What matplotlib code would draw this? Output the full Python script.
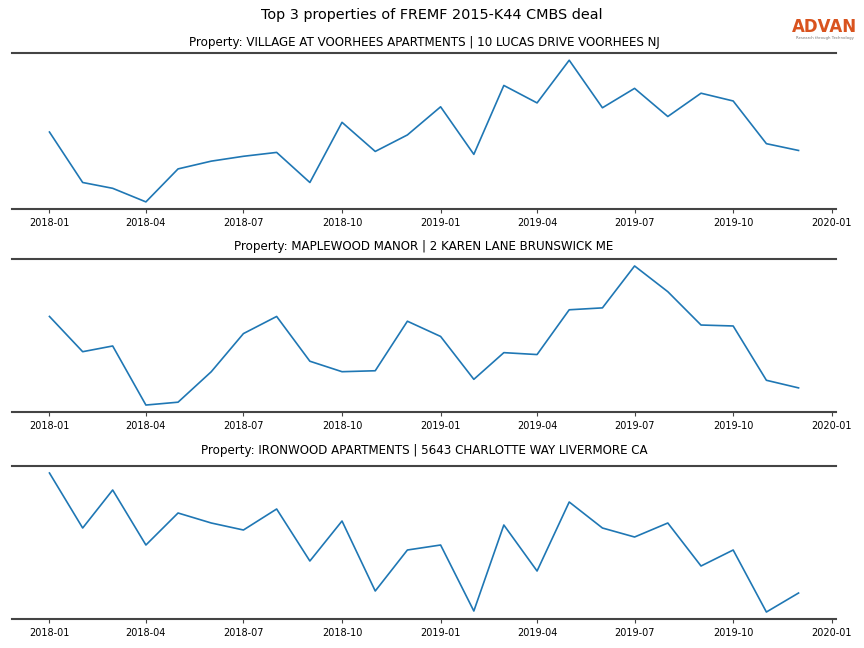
import matplotlib
matplotlib.use("Agg")
import matplotlib.pyplot as plt
import matplotlib.dates as mdates
import pandas as pd

months = pd.date_range("2018-01-01", "2019-12-01", freq="MS")

titles = [
    "Property: VILLAGE AT VOORHEES APARTMENTS | 10 LUCAS DRIVE VOORHEES NJ",
    "Property: MAPLEWOOD MANOR | 2 KAREN LANE BRUNSWICK ME",
    "Property: IRONWOOD APARTMENTS | 5643 CHARLOTTE WAY LIVERMORE CA",
]

village = [77, 25, 19, 5, 39, 47, 52, 56, 25, 87, 57, 74, 103, 54, 125, 107,
           151, 102, 122, 93, 117, 109, 65, 58]
maplewood = [96, 59, 65, 3, 6, 38, 78, 96, 49, 38, 39, 91, 75, 30, 58, 56,
             103, 105, 149, 122, 87, 86, 29, 21]
ironwood = [145, 90, 128, 73, 105, 95, 88, 109, 57, 97, 27, 68, 73, 7, 93, 47,
            116, 90, 81, 95, 52, 68, 6, 25]

series = [village, maplewood, ironwood]

fig = plt.figure(figsize=(8.64, 6.48), dpi=100)
fig.suptitle("Top 3 properties of FREMF 2015-K44 CMBS deal", fontsize=10.4, y=0.988)

positions = [(0.918, 0.6775), (0.6003, 0.3642), (0.2808, 0.0448)]
pads = [5, 6.5, 8.6]
left, right = 12 / 864, 836 / 864

for (top, bottom), title, vals, pad in zip(positions, titles, series, pads):
    ax = fig.add_axes([left, bottom, right - left, top - bottom])
    ax.plot(months, vals, color="#1f77b4", linewidth=1.2)
    ax.set_title(title, fontsize=8.6, pad=pad)
    for s in ["left", "right"]:
        ax.spines[s].set_visible(False)
    for s in ["top", "bottom"]:
        ax.spines[s].set_color("#444444")
        ax.spines[s].set_linewidth(1.5)
    ax.set_yticks([])
    ax.xaxis.set_major_locator(mdates.MonthLocator(bymonth=[1, 4, 7, 10]))
    ax.xaxis.set_major_formatter(mdates.DateFormatter("%Y-%m"))
    ax.tick_params(axis="x", labelsize=7, length=3, width=0.8, color="#444444")

fig.text(0.9545, 0.958, "ADVAN", color="#d9531e", fontsize=12, fontweight="bold",
         ha="center", va="center")
fig.text(0.9545, 0.941, "Research through Technology", color="#777777", fontsize=2.8,
         ha="center", va="center")

fig.savefig("out.png", dpi=100)
